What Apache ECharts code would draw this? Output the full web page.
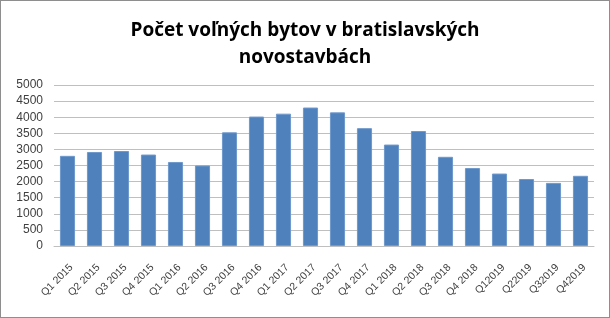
<!DOCTYPE html>
<html><head><meta charset="utf-8">
<script src="https://cdn.jsdelivr.net/npm/echarts@6/dist/echarts.min.js"></script>
<style>html,body{margin:0;padding:0;background:#fff}#c{width:610px;height:318px;box-sizing:border-box;border:1px solid #8e8e8e}</style>
</head><body><div id="c"></div>
<script>
const titleText = 'Počet voľných bytov v bratislavských\nnovostavbách';
const categories = ['Q1 2015','Q2 2015','Q3 2015','Q4 2015','Q1 2016','Q2 2016','Q3 2016','Q4 2016','Q1 2017','Q2 2017','Q3 2017','Q4 2017','Q1 2018','Q2 2018','Q3 2018','Q4 2018','Q12019','Q22019','Q32019','Q42019'];
const values = [2800,2920,2950,2840,2610,2500,3530,4020,4110,4300,4150,3660,3150,3570,2770,2420,2250,2080,1960,2180];
const yMin = 0, yMax = 5000, yStep = 500;

const chart = echarts.init(document.getElementById('c'), null, {renderer:'canvas'});
chart.setOption({
  animation:false,
  title:{text:titleText,left:'center',top:11,itemGap:0,
    textStyle:{fontFamily:'Open Sans',fontWeight:'bold',fontSize:19,color:'#000',lineHeight:27}},
  grid:{left:53,right:15,top:84,bottom:71,containLabel:false},
  xAxis:{type:'category',data:categories,
    axisLine:{lineStyle:{color:'#bfbfbf'}},axisTick:{show:false},
    axisLabel:{rotate:45,interval:0,fontFamily:'Liberation Sans',fontSize:10.5,color:'#404040',margin:16,verticalAlign:'top'}},
  yAxis:{type:'value',min:yMin,max:yMax,interval:yStep,
    axisLine:{show:false},axisTick:{show:false},
    splitLine:{lineStyle:{color:'#bfbfbf',width:1}},
    axisLabel:{fontFamily:'Liberation Sans',fontSize:12,color:'#404040',margin:11,formatter:v=>String(v)}},
  series:[{type:'bar',data:values,barCategoryGap:'44%',
    itemStyle:{color:'#4f81bd',borderColor:'#6f99cc',borderWidth:1}}]
});
</script></body></html>
